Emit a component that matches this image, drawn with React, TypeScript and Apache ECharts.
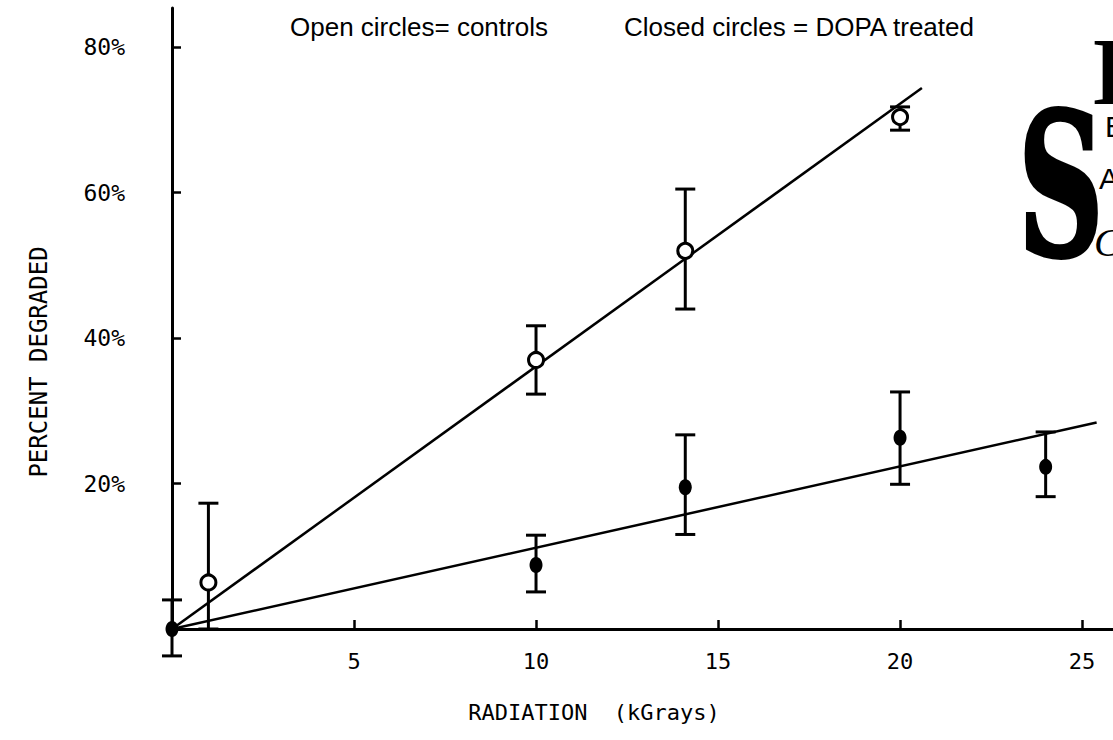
import React, { useEffect, useRef } from "react";
import * as echarts from "echarts";

// ---- data ----
const xTicks = [5, 10, 15, 20, 25];
const yTicks = [20, 40, 60, 80];

// controls (open circles)
const controlX = [1, 10, 14.1, 20];
const controlY = [6.4, 37.0, 52.0, 70.4];
const controlLow = [0, 32.3, 44.0, 68.6];
const controlHigh = [17.3, 41.7, 60.5, 71.8];

// DOPA treated (closed circles)
const dopaX = [0, 10, 14.1, 20, 24];
const dopaY = [0, 8.8, 19.5, 26.3, 22.3];
const dopaLow = [-3.7, 5.1, 13.0, 19.9, 18.2];
const dopaHigh = [4.0, 12.9, 26.7, 32.6, 27.1];

// fitted lines
const controlFitX = [0, 20.6];
const controlFitY = [0, 74.4];
const dopaFitX = [0, 25.4];
const dopaFitY = [0, 28.4];

const legendOpen = "Open circles= controls";
const legendClosed = "Closed circles = DOPA treated";
const xName = "RADIATION  (kGrays)";
const yName = "PERCENT DEGRADED";

const MONO = '"DejaVu Sans Mono"';

export default function App() {
  const ref = useRef<HTMLDivElement>(null);

  useEffect(() => {
    if (!ref.current) return;
    const chart = echarts.init(ref.current, null, { renderer: "svg" });

    const errRender = (params: any, api: any) => {
      const x = api.value(0);
      const lo = api.value(1);
      const hi = api.value(2);
      const p1 = api.coord([x, hi]);
      const p2 = api.coord([x, lo]);
      const w = 10;
      const style = { stroke: "#000", lineWidth: 3 };
      return {
        type: "group",
        children: [
          { type: "line", shape: { x1: p1[0], y1: p1[1], x2: p2[0], y2: p2[1] }, style },
          { type: "line", shape: { x1: p1[0] - w, y1: p1[1], x2: p1[0] + w, y2: p1[1] }, style },
          { type: "line", shape: { x1: p2[0] - w, y1: p2[1], x2: p2[0] + w, y2: p2[1] }, style },
        ],
      };
    };

    const t = (x: number, y: number, text: string, font: string, align = "left", extra: any = {}) => ({
      type: "text",
      x,
      y,
      ...extra,
      style: {
        text,
        font,
        fill: "#000",
        textAlign: align,
        textVerticalAlign: "middle",
        align,
        verticalAlign: "middle",
        ...(extra.style || {}),
      },
    });

    const option: any = {
      animation: false,
      backgroundColor: "#fff",
      grid: { left: 172, right: 0, top: 8, bottom: 111, containLabel: false },
      xAxis: {
        type: "value",
        min: 0,
        max: 25.85,
        interval: 5,
        splitLine: { show: false },
        axisLine: { show: true, lineStyle: { color: "#000", width: 3 } },
        axisTick: { show: true, inside: true, length: 9, customValues: xTicks, lineStyle: { color: "#000", width: 2.5 } },
        axisLabel: {
          customValues: xTicks,
          color: "#000",
          fontFamily: MONO,
          fontSize: 22,
          margin: 21,
        },
      },
      yAxis: {
        type: "value",
        min: 0,
        max: 85.4,
        interval: 20,
        splitLine: { show: false },
        axisLine: { show: true, lineStyle: { color: "#000", width: 3 } },
        axisTick: { show: true, inside: true, length: 9, customValues: yTicks, lineStyle: { color: "#000", width: 2.5 } },
        axisLabel: {
          customValues: yTicks,
          formatter: (v: number) => v + "%",
          color: "#000",
          fontFamily: MONO,
          fontSize: 23,
          margin: 47,
        },
      },
      series: [
        {
          type: "line",
          data: controlFitX.map((x, i) => [x, controlFitY[i]]),
          symbol: "none",
          lineStyle: { color: "#000", width: 2.5 },
          z: 2,
        },
        {
          type: "line",
          data: dopaFitX.map((x, i) => [x, dopaFitY[i]]),
          symbol: "none",
          lineStyle: { color: "#000", width: 2.5 },
          z: 2,
        },
        {
          type: "custom",
          renderItem: errRender,
          data: controlX.map((x, i) => [x, controlLow[i], controlHigh[i]]),
          encode: { x: 0, y: [1, 2] },
          z: 3,
        },
        {
          type: "custom",
          renderItem: errRender,
          data: dopaX.map((x, i) => [x, dopaLow[i], dopaHigh[i]]),
          encode: { x: 0, y: [1, 2] },
          z: 3,
        },
        {
          type: "scatter",
          data: controlX.map((x, i) => [x, controlY[i]]),
          symbol: "circle",
          symbolSize: 15,
          itemStyle: { color: "#fff", borderColor: "#000", borderWidth: 3, opacity: 1 },
          z: 5,
        },
        {
          type: "scatter",
          data: dopaX.map((x, i) => [x, dopaY[i]]),
          symbol: "circle",
          symbolSize: [13, 16],
          itemStyle: { color: "#000", opacity: 1 },
          z: 5,
        },
      ],
      graphic: [
        t(290, 27, legendOpen, '26px "Liberation Sans"'),
        t(624, 27, legendClosed, '26px "Liberation Sans"'),
        t(594, 712, xName, `22px ${MONO}`, "center"),
        t(39, 362, yName, `24px ${MONO}`, "center", { rotation: Math.PI / 2 }),
        // DTIC stamp fragment at the right edge
        t(1061, 186, "S", 'bold 198px "DejaVu Serif"', "center", {
          scaleX: 0.6,
          style: { stroke: "#000", lineWidth: 4 },
        }),
        t(1093, 72, "D", 'bold 95px "Liberation Serif"'),
        t(1105, 126, "E", '30px "Liberation Sans"'),
        t(1099, 178, "A", '30px "Liberation Sans"'),
        t(1094, 242, "C", 'italic 40px "Liberation Serif"'),
      ],
    };

    chart.setOption(option);
    return () => chart.dispose();
  }, []);

  return (
    <div
      ref={ref}
      style={{ position: "fixed", left: 0, top: 0, width: 1113, height: 740, background: "#fff" }}
    />
  );
}
